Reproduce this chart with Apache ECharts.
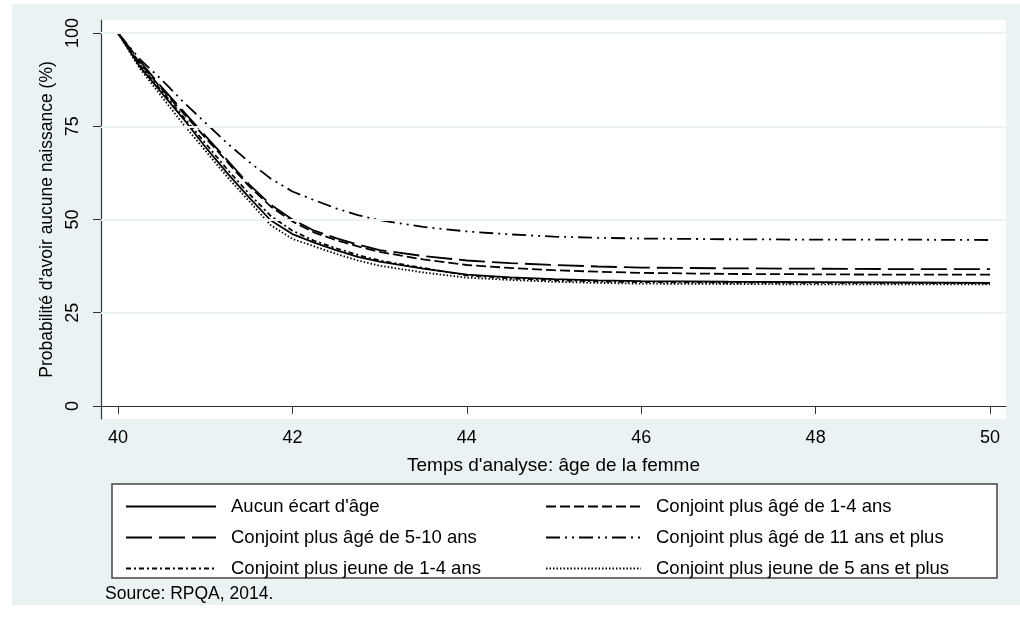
<!DOCTYPE html>
<html>
<head>
<meta charset="utf-8">
<title>Probabilité d'avoir aucune naissance</title>
<script src="https://cdn.jsdelivr.net/npm/echarts@6.0.0/dist/echarts.min.js"></script>
<style>
  html, body { margin: 0; padding: 0; background: #fff; }
  #main { width: 1020px; height: 630px; }
</style>
</head>
<body>
<div id="main"></div>
<script>
// âge de la femme (axe x)
var ages = [40, 40.25, 40.5, 40.75, 41, 41.25, 41.5, 41.75, 42, 42.25, 42.5, 42.75, 43, 43.5, 44, 44.5, 45, 45.5, 46, 47, 48, 49, 50];

// probabilité d'avoir aucune naissance (%)
var aucunEcart   = [100, 91, 84, 77, 69.5, 62.5, 56, 49.8, 46.1, 43.8, 41.8, 40, 38.7, 36.8, 35.2, 34.5, 34.0, 33.7, 33.5, 33.3, 33.2, 33.1, 33.0];
var plusAge14    = [100, 92, 85, 78.5, 72, 65.5, 59, 53.5, 49.5, 46.5, 44.5, 42.8, 41.3, 39.3, 37.8, 37.0, 36.4, 36.0, 35.7, 35.4, 35.3, 35.2, 35.2];
var plusAge510   = [100, 92.5, 85.5, 79, 72.5, 66, 59.5, 54, 50, 47, 45, 43.3, 41.8, 40.2, 39.0, 38.3, 37.8, 37.4, 37.1, 36.9, 36.8, 36.7, 36.7];
var plusAge11    = [100, 93, 87.5, 81.5, 76, 70.5, 65.5, 61, 57.5, 55.2, 53, 51.2, 49.8, 48, 46.8, 46, 45.4, 45.1, 44.9, 44.7, 44.6, 44.6, 44.5];
var plusJeune14  = [100, 91.5, 84.5, 77.5, 70.5, 63.5, 57, 51, 47, 44.3, 42.3, 40.5, 39.0, 37.0, 35.0, 34.2, 33.7, 33.4, 33.2, 33.1, 33.0, 33.0, 32.9];
var plusJeune5   = [100, 90.5, 83, 75.5, 68.5, 61.5, 55, 48.5, 44.8, 42.8, 40.8, 39.0, 37.6, 35.8, 34.4, 33.8, 33.3, 33.0, 32.8, 32.7, 32.6, 32.6, 32.6];

var xTicks = [40, 42, 44, 46, 48, 50];
var yTicks = [0, 25, 50, 75, 100];
var yGrid  = [25, 50, 75, 100];

var legendLeft  = ["Aucun écart d'âge", 'Conjoint plus âgé de 5-10 ans', 'Conjoint plus jeune de 1-4 ans'];
var legendRight = ['Conjoint plus âgé de 1-4 ans', 'Conjoint plus âgé de 11 ans et plus', 'Conjoint plus jeune de 5 ans et plus'];

var FONT = "'Liberation Sans', Arial, sans-serif";
var BG = '#eaf2f3';

function pairs(values) {
    return ages.map(function (a, i) { return [a, values[i]]; });
}

function curve(name, values, dash) {
    return {
        name: name,
        type: 'line',
        data: pairs(values),
        symbol: 'none',
        z: 3,
        lineStyle: { color: '#000', width: 1.8, type: dash },
        itemStyle: { color: '#000' },
        animation: false
    };
}

function legendCol(names, left, iconWidth) {
    return {
        data: names, orient: 'vertical', left: left, top: 497, padding: 0,
        itemWidth: iconWidth, itemHeight: 14, itemGap: 12, selectedMode: false,
        itemStyle: { opacity: 0 },   // pas de symbole, seulement la ligne
        textStyle: { fontSize: 18.5, fontFamily: FONT, color: '#000', padding: [0, 0, 0, 10] }
    };
}

var myChart = echarts.init(document.getElementById('main'), null, { renderer: 'canvas' });

myChart.setOption({
    backgroundColor: '#fff',
    animation: false,
    textStyle: { fontFamily: FONT, color: '#000' },
    graphic: [
        // fond gris-bleu du graphique
        { type: 'rect', z: -100, shape: { x: 12, y: 4, width: 1008, height: 601 }, style: { fill: BG } },
        // zone de tracé blanche
        { type: 'rect', z: -99, shape: { x: 101, y: 20, width: 905, height: 399 }, style: { fill: '#fff' } },
        // cadre de la légende
        { type: 'rect', z: -98, shape: { x: 112, y: 484, width: 885, height: 94 }, style: { fill: '#fff', stroke: '#444', lineWidth: 1.5 } },
        { type: 'text', left: 105, top: 585, style: { text: 'Source: RPQA, 2014.', fontSize: 17.5, fontFamily: FONT, fill: '#000' } }
    ],
    grid: { left: 101, right: 14, top: 20, bottom: 211, containLabel: false },
    legend: [
        legendCol(legendLeft, 125, 90),
        legendCol(legendRight, 545, 95)
    ],
    xAxis: {
        type: 'value', min: 39.805, max: 50.183,
        name: "Temps d'analyse: âge de la femme", nameLocation: 'middle', nameGap: 37,
        nameTextStyle: { fontSize: 19, fontFamily: FONT, color: '#000' },
        axisLine: { show: true, lineStyle: { color: '#333', width: 1.2 } },
        axisTick: { show: true, length: 8, lineStyle: { color: '#333' }, customValues: xTicks },
        axisLabel: { fontSize: 18, color: '#000', margin: 10, customValues: xTicks },
        splitLine: { show: false }
    },
    yAxis: {
        type: 'value', min: -3.5, max: 103.5,
        name: "Probabilité d'avoir aucune naissance (%)", nameLocation: 'middle', nameGap: 45, nameRotate: 90,
        nameTextStyle: { fontSize: 17.5, fontFamily: FONT, color: '#000' },
        axisLine: { show: true, lineStyle: { color: '#333', width: 1.2 } },
        axisTick: { show: true, length: 8, lineStyle: { color: '#333' }, customValues: yTicks },
        axisLabel: { fontSize: 18, color: '#000', margin: 19, rotate: 90, customValues: yTicks },
        splitLine: { show: false }
    },
    series: [
        // lignes de grille horizontales
        {
            name: 'grille', type: 'line', data: [], z: 1, silent: true,
            markLine: {
                silent: true, symbol: 'none', label: { show: false }, animation: false,
                lineStyle: { color: BG, width: 2, type: 'solid' },
                data: yGrid.map(function (v) { return { yAxis: v }; })
            }
        },
        curve("Aucun écart d'âge", aucunEcart, 'solid'),
        curve('Conjoint plus âgé de 1-4 ans', plusAge14, [10, 4]),
        curve('Conjoint plus âgé de 5-10 ans', plusAge510, [26, 7]),
        curve('Conjoint plus âgé de 11 ans et plus', plusAge11, [14, 5, 2, 5, 2, 5]),
        curve('Conjoint plus jeune de 1-4 ans', plusJeune14, [5, 3, 2, 3]),
        curve('Conjoint plus jeune de 5 ans et plus', plusJeune5, [1.5, 2])
    ]
});
</script>
</body>
</html>
